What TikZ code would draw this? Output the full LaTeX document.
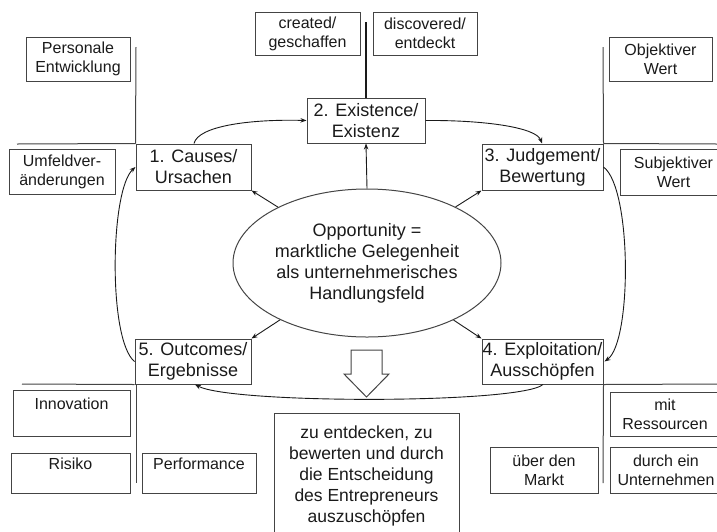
\documentclass[tikz,border=0pt]{standalone}
\usepackage{fontspec}
\setmainfont{Liberation Sans}
\usetikzlibrary{arrows.meta,shapes.geometric}
\definecolor{lc}{HTML}{444444}
\definecolor{tc}{HTML}{1A1A1A}
\begin{document}
\begin{tikzpicture}[x=1pt,y=-1pt,
  box/.style={draw=lc, line width=1pt, inner sep=0pt, align=center, text=tc},
  mainbox/.style={box, font=\fontsize{18}{21}\selectfont},
  smallbox/.style={box, font=\fontsize{16}{19}\selectfont},
  arr/.style={draw=tc, line width=0.9pt, -{Stealth[length=6pt,width=4.5pt]}},
  sepline/.style={draw=lc, line width=1pt}]
\useasboundingbox (0,0) rectangle (717,531);

% main boxes
\node[mainbox, minimum width=115pt, minimum height=46pt] (c1) at (193.5,167) {1. Causes/\\Ursachen};
\node[mainbox, minimum width=118pt, minimum height=45pt] (c2) at (366,120.5) {2. Existence/\\Existenz};
\node[mainbox, minimum width=121pt, minimum height=46pt] (c3) at (542.5,167) {3. Judgement/\\Bewertung};
\node[mainbox, minimum width=121pt, minimum height=45pt] (c4) at (542.5,361.5) {4. Exploitation/\\Ausschöpfen};
\node[mainbox, minimum width=116pt, minimum height=45pt] (c5) at (193,361.5) {5. Outcomes/\\Ergebnisse};

% ellipse
\node[box, ellipse, minimum width=268pt, minimum height=148pt, font=\fontsize{18}{21}\selectfont] (ell) at (367,263)
  {Opportunity =\\marktliche Gelegenheit\\als unternehmerisches\\Handlungsfeld};

% small boxes
\node[smallbox, minimum width=104pt, minimum height=44pt] (pe) at (78,59) {Personale\\Entwicklung};
\node[smallbox, minimum width=105pt, minimum height=43pt] (cg) at (307.5,33.5) {created/\\geschaffen};
\node[smallbox, minimum width=104pt, minimum height=43pt] (de) at (425,33.5) {discovered/\\entdeckt};
\node[smallbox, minimum width=103pt, minimum height=44pt] (ow) at (660.5,59) {Objektiver\\Wert};
\node[smallbox, minimum width=106pt, minimum height=45pt] (uv) at (62,171.5) {Umfeldver-\\änderungen};
\node[smallbox, minimum width=107pt, minimum height=46pt] (sw) at (673.5,172) {Subjektiver\\Wert};
\node[smallbox, minimum width=117pt, minimum height=46pt] (inn) at (71.5,413) {Innovation\\~};
\node[smallbox, minimum width=119pt, minimum height=40pt] (ris) at (70.5,473) {Risiko\\~};
\node[smallbox, minimum width=114pt, minimum height=40pt] (perf) at (199,473) {Performance\\~};
\node[smallbox, minimum width=108pt, minimum height=46pt] (ud) at (544,470) {über den\\Markt};
\node[smallbox, minimum width=110pt, minimum height=44pt] (mr) at (665,414) {mit\\Ressourcen};
\node[smallbox, minimum width=112pt, minimum height=46pt] (du) at (666,470) {durch ein\\Unternehmen};
\node[box, minimum width=185pt, minimum height=125pt, font=\fontsize{17.5}{21}\selectfont] (big) at (366.5,475.5)
  {zu entdecken, zu\\bewerten und durch\\die Entscheidung\\des Entrepreneurs\\auszuschöpfen};

% separator lines
\coordinate (vtop) at (366,22);
\draw[draw=tc, line width=2pt] (vtop) -- (c2.north);
\coordinate (ltv) at (136,47);
\coordinate (lth) at (17,144);
\draw[sepline] (ltv) -- (c1.north west);
\draw[sepline] (lth) -- (c1.north west);
\coordinate (rtv) at (603,47);
\coordinate (rth) at (717,144);
\draw[sepline] (rtv) -- (c3.north east);
\draw[sepline] (c3.north east) -- (rth);
\coordinate (lbh) at (22,384);
\coordinate (lbv) at (136,483);
\coordinate (lbc) at (136,384);
\draw[sepline] (lbh) -- (c5.south west);
\draw[sepline] (lbc) -- (lbv);
\coordinate (rbh) at (717,384);
\coordinate (rbv) at (603,483);
\draw[sepline] (c4.south east) -- (rbh);
\draw[sepline] (c4.south east) -- (rbv);

% cycle arrows
\draw[arr] ([xshift=0.5pt]c1.north) .. controls (198,126) and (250,119) .. (c2.west);
\draw[arr] (c2.east) .. controls (482,120) and (536,127) .. ([xshift=-0.5pt]c3.north);
\draw[arr] (c3.east) .. controls (632,188) and (632,342) .. ([xshift=1pt]c4.east);
\draw[arr] ([xshift=0.5pt]c4.south) .. controls (520,404) and (232,404) .. ([xshift=2pt]c5.south);
\draw[arr] (c5.west) .. controls (108,340) and (110,190) .. (c1.west);

% ellipse arrows
\draw[arr] (ell) -- (c1.south east);
\draw[arr] (ell.north) -- (c2.south);
\draw[arr] (ell) -- (c3.south west);
\draw[arr] (ell) -- (c5.north east);
\draw[arr] (ell) -- (c4.north west);

% hollow down arrow
\draw[draw=lc, line width=1pt, fill=white] (351,350) -- (382,350) -- (382,374) -- (389,374) -- (366.5,397) -- (344,374) -- (351,374) -- cycle;
\end{tikzpicture}
\end{document}
